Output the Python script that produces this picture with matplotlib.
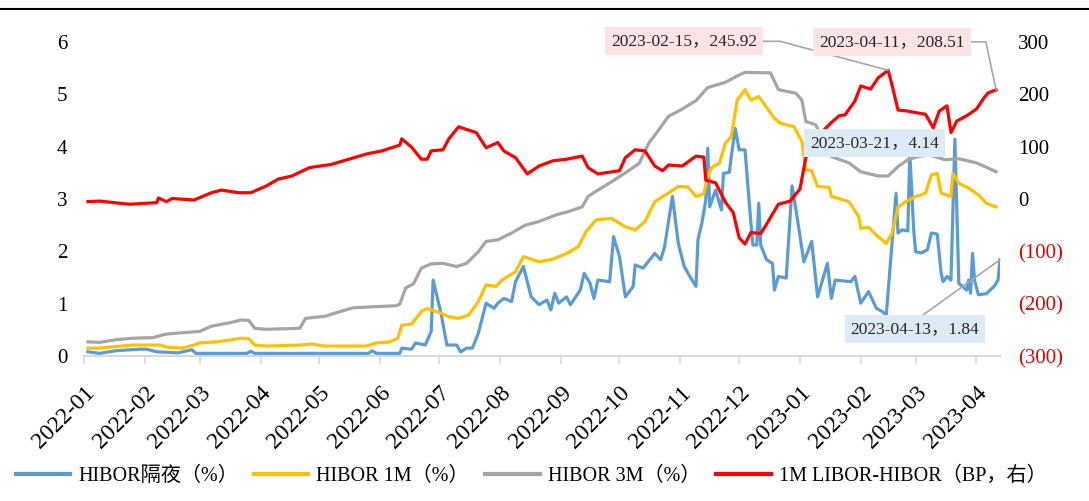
import pandas as pd
import matplotlib
matplotlib.use('Agg')
import matplotlib.pyplot as plt
import matplotlib.dates as mdates
from matplotlib.lines import Line2D

plt.rcParams['font.family'] = ['Liberation Serif', 'Noto Sans CJK SC']

# HIBOR 隔夜 (%)
on_dates = ['2022-01-03', '2022-01-09', '2022-01-17', '2022-01-29', '2022-02-02', '2022-02-07', '2022-02-18',
            '2022-02-25', '2022-02-27', '2022-03-25', '2022-03-27', '2022-03-29', '2022-05-26', '2022-05-28',
            '2022-05-30', '2022-06-11', '2022-06-12', '2022-06-17', '2022-06-19', '2022-06-24', '2022-06-27',
            '2022-06-28', '2022-07-02', '2022-07-05', '2022-07-10', '2022-07-12', '2022-07-15', '2022-07-18',
            '2022-07-21', '2022-07-25', '2022-07-29', '2022-07-31', '2022-08-03', '2022-08-07', '2022-08-09',
            '2022-08-13', '2022-08-17', '2022-08-21', '2022-08-25', '2022-08-27', '2022-08-29', '2022-08-31',
            '2022-09-04', '2022-09-06', '2022-09-11', '2022-09-13', '2022-09-16', '2022-09-18', '2022-09-20',
            '2022-09-26', '2022-09-28', '2022-10-01', '2022-10-04', '2022-10-08', '2022-10-09', '2022-10-13',
            '2022-10-19', '2022-10-22', '2022-10-24', '2022-10-28', '2022-10-31', '2022-11-03', '2022-11-07',
            '2022-11-09', '2022-11-10', '2022-11-12', '2022-11-14', '2022-11-15', '2022-11-16', '2022-11-19',
            '2022-11-22', '2022-11-23', '2022-11-26', '2022-11-27', '2022-11-29', '2022-12-01', '2022-12-04',
            '2022-12-07', '2022-12-08', '2022-12-10', '2022-12-11', '2022-12-12', '2022-12-15', '2022-12-18',
            '2022-12-19', '2022-12-21', '2022-12-25', '2022-12-28', '2022-12-30', '2023-01-03', '2023-01-07',
            '2023-01-10', '2023-01-15', '2023-01-17', '2023-01-19', '2023-01-27', '2023-01-29', '2023-02-01',
            '2023-02-05', '2023-02-09', '2023-02-12', '2023-02-14', '2023-02-19', '2023-02-20', '2023-02-22',
            '2023-02-25', '2023-02-26', '2023-02-28', '2023-03-01', '2023-03-04', '2023-03-07', '2023-03-09',
            '2023-03-12', '2023-03-14', '2023-03-15', '2023-03-17', '2023-03-19', '2023-03-21', '2023-03-23',
            '2023-03-27', '2023-03-28', '2023-03-29', '2023-03-30', '2023-03-31', '2023-04-02', '2023-04-06',
            '2023-04-10', '2023-04-12', '2023-04-13']
on_vals = [0.08, 0.05, 0.10, 0.13, 0.13, 0.08, 0.06,
           0.12, 0.05, 0.05, 0.09, 0.05, 0.05, 0.10,
           0.05, 0.05, 0.15, 0.13, 0.25, 0.21, 0.47,
           1.45, 0.82, 0.21, 0.21, 0.08, 0.15, 0.15,
           0.43, 1.01, 0.91, 1.01, 1.10, 1.04, 1.42,
           1.71, 1.13, 0.98, 1.07, 0.88, 1.20, 1.01,
           1.13, 0.98, 1.26, 1.58, 1.39, 1.10, 1.45,
           1.42, 2.28, 1.90, 1.13, 1.33, 1.74, 1.68,
           1.96, 1.84, 2.09, 3.05, 2.15, 1.71, 1.45,
           1.33, 2.22, 2.54, 2.98, 3.97, 2.85, 3.17,
           2.79, 3.49, 3.51, 3.81, 4.35, 3.94, 3.94,
           2.54, 2.12, 2.12, 2.92, 2.12, 1.84, 1.77,
           1.26, 1.52, 1.49, 3.25, 2.79, 1.80, 2.19,
           1.13, 1.77, 1.10, 1.45, 1.42, 1.52, 1.01,
           1.23, 0.91, 0.85, 0.78, 3.11, 2.35, 2.41,
           2.39, 3.90, 2.41, 1.99, 1.97, 2.03, 2.35,
           2.33, 1.58, 1.42, 1.52, 1.45, 4.14, 1.39,
           1.26, 1.45, 1.20, 1.96, 1.45, 1.17, 1.19,
           1.33, 1.45, 1.84]

# HIBOR 1M (%)
m1_dates = ['2022-01-03', '2022-01-09', '2022-01-17', '2022-01-26', '2022-02-09', '2022-02-12', '2022-02-20',
            '2022-02-26', '2022-03-01', '2022-03-09', '2022-03-17', '2022-03-22', '2022-03-26', '2022-03-29',
            '2022-04-04', '2022-04-21', '2022-04-27', '2022-05-04', '2022-05-25', '2022-05-30', '2022-06-06',
            '2022-06-10', '2022-06-12', '2022-06-17', '2022-06-22', '2022-06-25', '2022-07-02', '2022-07-06',
            '2022-07-11', '2022-07-16', '2022-07-21', '2022-07-25', '2022-07-30', '2022-08-02', '2022-08-09',
            '2022-08-13', '2022-08-21', '2022-08-28', '2022-09-04', '2022-09-10', '2022-09-14', '2022-09-19',
            '2022-09-27', '2022-10-04', '2022-10-09', '2022-10-14', '2022-10-19', '2022-10-27', '2022-10-31',
            '2022-11-05', '2022-11-09', '2022-11-13', '2022-11-15', '2022-11-17', '2022-11-21', '2022-11-24',
            '2022-11-27', '2022-11-30', '2022-12-04', '2022-12-07', '2022-12-11', '2022-12-14', '2022-12-19',
            '2022-12-22', '2022-12-29', '2023-01-02', '2023-01-04', '2023-01-07', '2023-01-10', '2023-01-16',
            '2023-01-17', '2023-01-26', '2023-01-31', '2023-02-01', '2023-02-05', '2023-02-09', '2023-02-14',
            '2023-02-17', '2023-02-20', '2023-02-24', '2023-03-01', '2023-03-06', '2023-03-09', '2023-03-12',
            '2023-03-14', '2023-03-19', '2023-03-20', '2023-03-23', '2023-03-28', '2023-04-02', '2023-04-06',
            '2023-04-11']
m1_vals = [0.15, 0.15, 0.18, 0.21, 0.21, 0.17, 0.15,
           0.21, 0.25, 0.27, 0.31, 0.34, 0.33, 0.21,
           0.19, 0.21, 0.23, 0.19, 0.19, 0.25, 0.27,
           0.34, 0.59, 0.61, 0.85, 0.91, 0.82, 0.75,
           0.72, 0.78, 1.04, 1.36, 1.33, 1.45, 1.61,
           1.90, 1.80, 1.85, 1.96, 2.09, 2.38, 2.60,
           2.63, 2.47, 2.41, 2.57, 2.95, 3.14, 3.24,
           3.23, 3.05, 3.10, 3.43, 3.60, 3.69, 4.07,
           4.19, 4.89, 5.09, 4.89, 4.96, 4.80, 4.54,
           4.45, 4.38, 4.10, 3.56, 3.54, 3.24, 3.22,
           3.05, 2.95, 2.66, 2.44, 2.46, 2.31, 2.15,
           2.35, 2.85, 2.95, 3.05, 3.11, 3.46, 3.49,
           3.11, 3.05, 3.49, 3.30, 3.21, 3.08, 2.92,
           2.85]

# HIBOR 3M (%)
m3_dates = ['2022-01-03', '2022-01-09', '2022-01-17', '2022-01-26', '2022-02-05', '2022-02-12', '2022-02-22',
            '2022-03-01', '2022-03-07', '2022-03-17', '2022-03-22', '2022-03-26', '2022-03-29', '2022-04-04',
            '2022-04-21', '2022-04-24', '2022-05-04', '2022-05-09', '2022-05-18', '2022-05-28', '2022-06-09',
            '2022-06-11', '2022-06-14', '2022-06-18', '2022-06-22', '2022-06-27', '2022-07-03', '2022-07-10',
            '2022-07-15', '2022-07-21', '2022-07-25', '2022-07-31', '2022-08-07', '2022-08-14', '2022-08-21',
            '2022-08-30', '2022-09-05', '2022-09-12', '2022-09-15', '2022-09-20', '2022-09-27', '2022-10-04',
            '2022-10-11', '2022-10-16', '2022-10-21', '2022-10-26', '2022-11-02', '2022-11-09', '2022-11-15',
            '2022-11-24', '2022-12-01', '2022-12-04', '2022-12-17', '2022-12-21', '2022-12-30', '2023-01-02',
            '2023-01-04', '2023-01-09', '2023-01-17', '2023-01-26', '2023-02-01', '2023-02-10', '2023-02-15',
            '2023-02-20', '2023-02-25', '2023-03-02', '2023-03-08', '2023-03-16', '2023-03-23', '2023-04-01',
            '2023-04-07', '2023-04-11']
m3_vals = [0.27, 0.26, 0.31, 0.34, 0.35, 0.42, 0.45,
           0.47, 0.57, 0.64, 0.69, 0.68, 0.53, 0.51,
           0.53, 0.72, 0.76, 0.82, 0.92, 0.94, 0.96,
           0.99, 1.30, 1.38, 1.68, 1.76, 1.77, 1.71,
           1.77, 1.99, 2.19, 2.22, 2.35, 2.50, 2.57,
           2.70, 2.76, 2.85, 3.05, 3.17, 3.33, 3.50,
           3.68, 4.07, 4.32, 4.58, 4.72, 4.88, 5.13,
           5.23, 5.37, 5.42, 5.41, 5.09, 5.02, 4.89,
           4.48, 4.42, 3.81, 3.69, 3.52, 3.44, 3.44,
           3.62, 3.75, 3.81, 3.84, 3.75, 3.77, 3.69,
           3.59, 3.52]

# 1M LIBOR-HIBOR (BP, 右轴)
sp_dates = ['2022-01-03', '2022-01-09', '2022-01-24', '2022-02-07', '2022-02-08', '2022-02-12', '2022-02-15',
            '2022-02-26', '2022-03-07', '2022-03-12', '2022-03-21', '2022-03-27', '2022-04-04', '2022-04-10',
            '2022-04-17', '2022-04-26', '2022-05-07', '2022-05-16', '2022-05-25', '2022-06-02', '2022-06-11',
            '2022-06-12', '2022-06-17', '2022-06-22', '2022-06-25', '2022-06-27', '2022-07-03', '2022-07-06',
            '2022-07-11', '2022-07-15', '2022-07-20', '2022-07-25', '2022-07-31', '2022-08-03', '2022-08-09',
            '2022-08-15', '2022-08-21', '2022-08-28', '2022-09-04', '2022-09-12', '2022-09-15', '2022-09-20',
            '2022-10-01', '2022-10-04', '2022-10-09', '2022-10-14', '2022-10-19', '2022-10-23', '2022-10-26',
            '2022-11-02', '2022-11-09', '2022-11-13', '2022-11-14', '2022-11-19', '2022-11-24', '2022-11-28',
            '2022-12-01', '2022-12-04', '2022-12-07', '2022-12-12', '2022-12-15', '2022-12-21', '2022-12-27',
            '2023-01-01', '2023-01-04', '2023-01-10', '2023-01-17', '2023-01-21', '2023-01-24', '2023-01-29',
            '2023-02-01', '2023-02-06', '2023-02-10', '2023-02-15', '2023-02-17', '2023-02-20', '2023-02-25',
            '2023-03-01', '2023-03-06', '2023-03-10', '2023-03-13', '2023-03-17', '2023-03-19', '2023-03-22',
            '2023-03-27', '2023-04-01', '2023-04-05', '2023-04-07', '2023-04-11']
sp_vals = [-5, -4, -10, -7, 2, -5, 1,
           -2, 12, 17, 12, 12, 25, 38,
           44, 60, 66, 76, 86, 92, 103,
           115, 99, 76, 76, 92, 94, 115,
           138, 133, 127, 98, 108, 92, 79,
           48, 63, 73, 76, 82, 60, 48,
           54, 79, 94, 92, 63, 54, 65,
           63, 82, 80, 36, 31, -6, -26,
           -74, -86, -64, -66, -48, -10, -4,
           19, 79, 120, 146, 159, 161, 187,
           216, 210, 232, 245.92, 217, 170, 168,
           165, 162, 136, 168, 178, 127, 149,
           159, 172, 194, 203, 208.51]

tick_dates = ['2022-01-01', '2022-02-01', '2022-03-01', '2022-04-01', '2022-05-01', '2022-06-01',
              '2022-07-01', '2022-08-01', '2022-09-01', '2022-10-01', '2022-11-01', '2022-12-01',
              '2023-01-01', '2023-02-01', '2023-03-01', '2023-04-01']
tick_labels = [d[:7] for d in tick_dates]
left_ticks = [0, 1, 2, 3, 4, 5, 6]
right_ticks = [-300, -200, -100, 0, 100, 200, 300]
right_labels = ['(300)', '(200)', '(100)', '0', '100', '200', '300']

fig = plt.figure(figsize=(10.89, 5.01), dpi=100)
ax = fig.add_axes([84 / 1089, 1 - 356 / 501, 916 / 1089, 314 / 501])
ax2 = ax.twinx()

lw = 2.3
ax.plot(pd.to_datetime(on_dates), on_vals, color='#5B9BD5', lw=lw, label='HIBOR隔夜（%）')
ax.plot(pd.to_datetime(m1_dates), m1_vals, color='#FFC000', lw=lw, label='HIBOR 1M（%）')
ax.plot(pd.to_datetime(m3_dates), m3_vals, color='#A5A5A5', lw=lw, label='HIBOR 3M（%）')
ax2.plot(pd.to_datetime(sp_dates), sp_vals, color='#FF0000', lw=lw, label='1M LIBOR-HIBOR（BP，右）')

ax.set_xlim(pd.Timestamp('2022-01-01'), pd.Timestamp('2023-04-13'))
ax.set_ylim(0, 6)
ax2.set_ylim(-300, 300)

ax.set_xticks(pd.to_datetime(tick_dates))
ax.set_xticklabels(tick_labels, rotation=45, ha='right', rotation_mode='anchor')
ax.set_yticks(left_ticks)
ax2.set_yticks(right_ticks, labels=right_labels)
for lab, v in zip(ax2.get_yticklabels(), right_ticks):
    lab.set_color('#E00000' if v < 0 else 'black')

for a in (ax, ax2):
    for s in ('top', 'left', 'right'):
        a.spines[s].set_visible(False)
ax2.spines['bottom'].set_visible(False)
ax.spines['bottom'].set_color('#D9D9D9')
ax.spines['bottom'].set_linewidth(1.5)
ax.tick_params(axis='x', length=6, width=1.2, color='#D9D9D9', pad=13, labelsize=17)
ax.tick_params(axis='y', length=0, pad=12, labelsize=15)
ax2.tick_params(axis='y', length=0, pad=13, labelsize=15)

# 数据标签
grey = '#A6A6A6'
ax2.annotate('2023-02-15，245.92', xy=(pd.Timestamp('2023-02-15'), 245.92), xytext=(-204, 29),
             textcoords='offset pixels', ha='center', va='center', fontsize=12.5, color='#262626',
             bbox=dict(boxstyle='square,pad=0.35', fc='#FCE4E4', ec='none'), zorder=10, annotation_clip=False,
             arrowprops=dict(arrowstyle='-', color=grey, lw=1.2, relpos=(1, 0.5), shrinkA=0, shrinkB=0,
                             connectionstyle='angle,angleA=0,angleB=-15,rad=0'))
ax2.annotate('2023-04-11，208.51', xy=(pd.Timestamp('2023-04-11'), 208.51), xytext=(-104, 48),
             textcoords='offset pixels', ha='center', va='center', fontsize=12.5, color='#262626',
             bbox=dict(boxstyle='square,pad=0.35', fc='#FCE4E4', ec='none'), zorder=10, annotation_clip=False,
             arrowprops=dict(arrowstyle='-', color=grey, lw=1.2, relpos=(1, 0.5), shrinkA=0, shrinkB=0,
                             connectionstyle='angle,angleA=0,angleB=-78,rad=0'))
ax2.annotate('2023-03-21，4.14', xy=(mdates.date2num(pd.Timestamp('2023-03-21')), 4.14), xycoords=ax.transData,
             xytext=(-80, -4), textcoords='offset pixels', ha='center', va='center', fontsize=12.5,
             color='#262626', bbox=dict(boxstyle='square,pad=0.35', fc='#DDEBF7', ec='none'), zorder=10)
ax2.annotate('2023-04-13，1.84', xy=(mdates.date2num(pd.Timestamp('2023-04-13')), 1.84), xycoords=ax.transData,
             xytext=(-85, -69), textcoords='offset pixels', ha='center', va='center', fontsize=12.5,
             color='#262626', bbox=dict(boxstyle='square,pad=0.35', fc='#DDEBF7', ec='none'), zorder=10,
             arrowprops=dict(arrowstyle='-', color=grey, lw=1.2, relpos=(0.5, 1), shrinkA=0, shrinkB=0))

h1, l1 = ax.get_legend_handles_labels()
h2, l2 = ax2.get_legend_handles_labels()
leg = fig.legend(h1 + h2, l1 + l2, loc='center', bbox_to_anchor=(0.4876, 0.05), ncol=4, frameon=False,
                 fontsize=14.5, handlelength=2.7, handletextpad=0.4, columnspacing=0.8)
for line in leg.get_lines():
    line.set_linewidth(3)

fig.add_artist(Line2D([0, 1], [1 - 9 / 501, 1 - 9 / 501], transform=fig.transFigure, color='black', lw=1.5))

fig.savefig('out.png', dpi=100)
